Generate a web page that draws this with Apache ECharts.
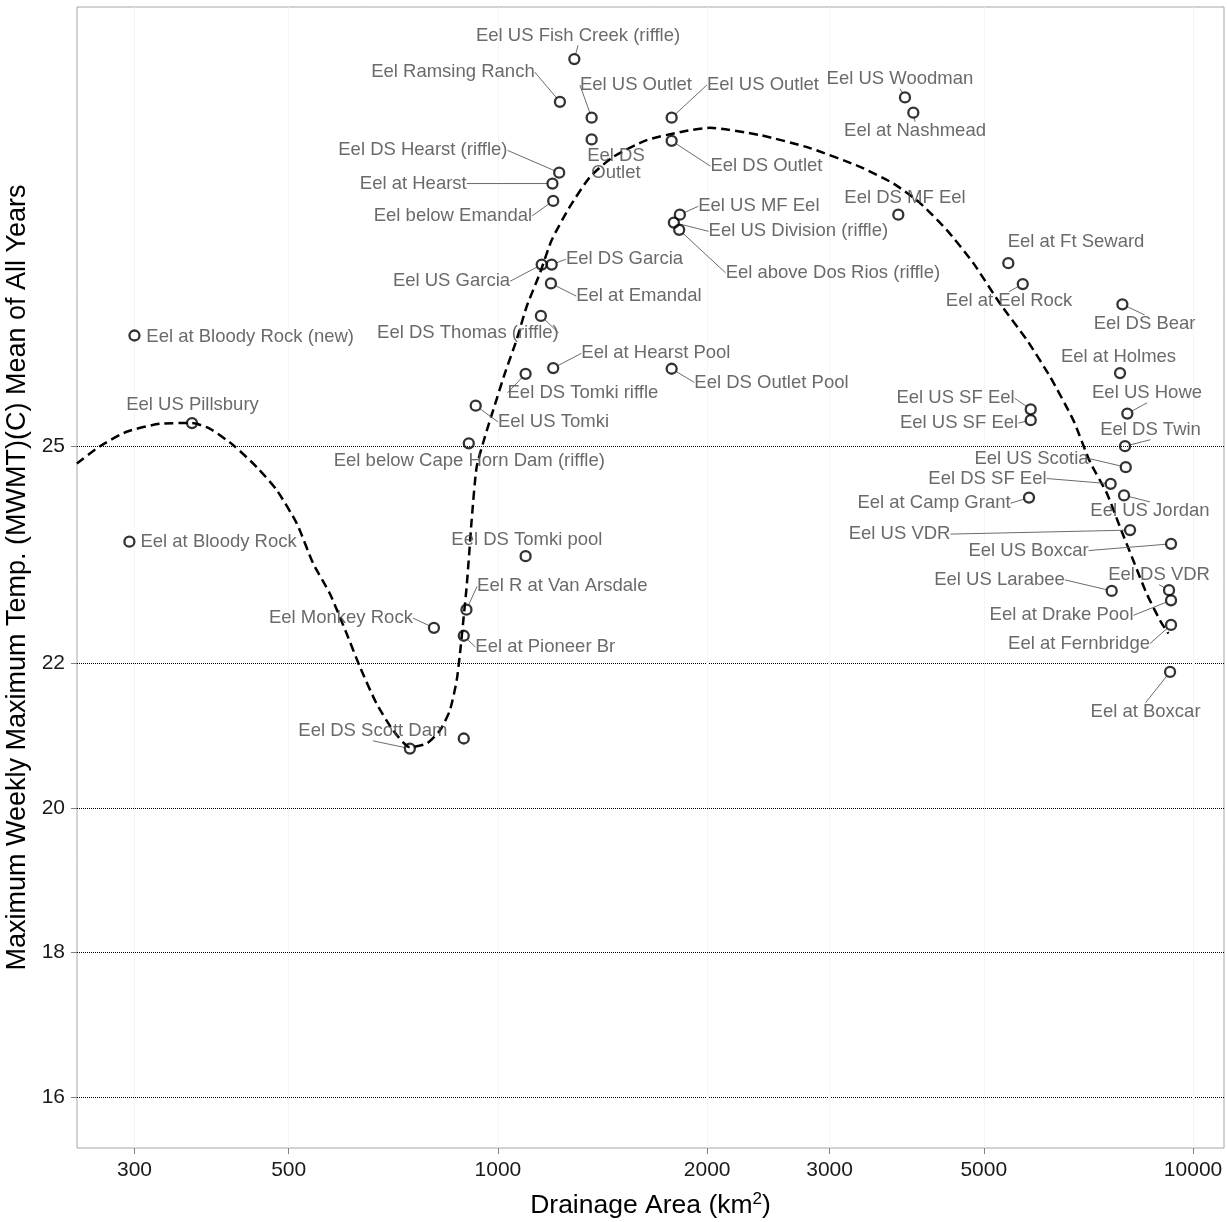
<!DOCTYPE html>
<html>
<head>
<meta charset="utf-8">
<script src="https://cdn.jsdelivr.net/npm/echarts@6/dist/echarts.min.js"></script>
<style>
  html, body { margin: 0; padding: 0; background: #ffffff; }
  #chart { width: 1227px; height: 1222px; }
</style>
</head>
<body>
<div id="chart"></div>
<script>
// Monitoring sites along the Eel River: drainage area (km²) and mean MWMT (°C)
const siteNames = [
  'Eel US Fish Creek (riffle)', 'Eel Ramsing Ranch', 'Eel US Outlet', 'Eel DS\nOutlet',
  'Eel DS Hearst (riffle)', 'Eel at Hearst', 'Eel below Emandal', 'Eel US Outlet',
  'Eel DS Outlet', 'Eel US Woodman', 'Eel at Nashmead', 'Eel DS MF Eel',
  'Eel US MF Eel', 'Eel US Division (riffle)', 'Eel above Dos Rios (riffle)', 'Eel US Garcia',
  'Eel DS Garcia', 'Eel at Emandal', 'Eel DS Thomas (riffle)', 'Eel at Hearst Pool',
  'Eel DS Tomki riffle', 'Eel DS Outlet Pool', 'Eel US Tomki', 'Eel below Cape Horn Dam (riffle)',
  'Eel at Bloody Rock (new)', 'Eel US Pillsbury', 'Eel at Bloody Rock', 'Eel DS Tomki pool',
  'Eel R at Van Arsdale', 'Eel Monkey Rock', 'Eel at Pioneer Br', 'Eel DS Scott Dam',
  '', 'Eel at Ft Seward', 'Eel at Eel Rock', 'Eel DS Bear',
  'Eel at Holmes', 'Eel US Howe', 'Eel DS Twin', 'Eel US SF Eel',
  'Eel US SF Eel', 'Eel US Scotia', 'Eel DS SF Eel', 'Eel at Camp Grant',
  'Eel US Jordan', 'Eel US VDR', 'Eel US Boxcar', 'Eel US Larabee',
  'Eel DS VDR', 'Eel at Drake Pool', 'Eel at Fernbridge', 'Eel at Boxcar'
];
const drainageArea = [
  1288, 1228, 1364, 1364,
  1225, 1198, 1201, 1778,
  1778, 3851, 3959, 3767,
  1827, 1791, 1823, 1156,
  1195, 1192, 1153, 1201,
  1096, 1778, 929, 908,
  300, 363, 295, 1096,
  901, 809, 893, 747,
  893, 5423, 5689, 7913,
  7852, 8044, 7983, 5841,
  5841, 8002, 7612, 5808,
  7956, 8117, 9297, 7638,
  9236, 9297, 9297, 9267
];
const mwmtMean = [
  30.35, 29.76, 29.54, 29.24,
  28.78, 28.63, 28.39, 29.54,
  29.22, 29.82, 29.61, 28.20,
  28.20, 28.09, 27.99, 27.51,
  27.51, 27.25, 26.80, 26.08,
  26.00, 26.07, 25.56, 25.04,
  26.53, 25.32, 23.68, 23.48,
  22.74, 22.49, 22.38, 20.82,
  20.96, 27.53, 27.24, 26.96,
  26.01, 25.45, 25.00, 25.51,
  25.36, 24.71, 24.48, 24.29,
  24.32, 23.84, 23.65, 23.00,
  23.01, 22.87, 22.53, 21.88
];

// Fitted trend (dashed curve) sampled along the drainage-area range
const fitArea = [
  247.9, 267.7, 292.4, 326.6, 362.8, 385.5, 416.6, 449.9, 480.8, 513.7,
  542.2, 573.2, 605.8, 633.1, 669.1, 707.0, 747.0, 789.9, 825.0, 853.0,
  872.2, 881.8, 891.7, 901.4, 909.3, 916.7, 931.9, 957.8, 984.5, 1023.5,
  1063.9, 1099.8, 1149.2, 1195.1, 1269.0, 1356.3, 1465.4, 1636.8, 1848.2, 2018.4,
  2382.3, 2811.7, 3318.6, 3706.4, 4048.9, 4421.3, 4830.0, 5276.6, 5764.6, 6227.3,
  6725.0, 7110.7, 7515.6, 7852.0, 8205.0, 8578.0, 8967.0, 9215.0
];
const fitTemp = [
  24.76, 25.00, 25.20, 25.31, 25.32, 25.24, 25.01, 24.71, 24.39, 23.93,
  23.38, 22.96, 22.41, 21.95, 21.44, 21.07, 20.84, 20.89, 21.07, 21.35,
  21.76, 22.13, 22.59, 23.05, 23.52, 23.98, 24.71, 25.13, 25.50, 26.01,
  26.47, 26.93, 27.39, 27.85, 28.31, 28.72, 29.00, 29.23, 29.35, 29.40,
  29.30, 29.12, 28.86, 28.63, 28.36, 27.99, 27.53, 26.97, 26.47, 25.96,
  25.36, 24.78, 24.35, 23.88, 23.42, 22.96, 22.59, 22.41
];

const xTickValues = [300, 500, 1000, 2000, 3000, 5000, 10000];
const yTickValues = [16, 18, 20, 22, 25];
const xRange = [248, 11080];
const yRange = [15.3, 31.07];

// Label placement: pixel offset of each label from its point, and whether a leader line is drawn
const labelOffsets = [
  [3.7, -23.3], [-107, -29.7], [44.3, -32.7], [24.3, 24.7],
  [-136.3, -22.3], [-139.2, 0], [-100.3, 15], [91.3, -32.7],
  [94.8, 25.3], [-5, -18.3], [1.7, 18.7], [6.7, -16.3],
  [79, -8.3], [124.5, 8.7], [153.7, 43], [-90.2, 16.7],
  [72.8, -5.3], [88, 12.7], [-73, 17], [102.7, -14.7],
  [57.3, 19], [99.8, 13.7], [77.8, 16.3], [0.5, 17.7],
  [115.7, 1], [0.5, -17.7], [89.2, 0], [1.3, -16.7],
  [95.8, -23.3], [-93, -9.7], [81.5, 11.3], [-37, -17.3],
  [0, 0], [67.7, -21.3], [-13.7, 17], [22.2, 20],
  [-1.5, -16.3], [19.7, -20.3], [25.5, -16], [-75.2, -11],
  [-71.7, 3], [-94.2, -8.7], [-123.2, -5.3], [-95, 5.7],
  [26, 16], [-230.5, 4], [-142.5, 6.7], [-112.2, -11],
  [-10, -15], [-109.5, 15], [-92, 18.7], [-24.5, 40.3]
];
const leaderShown = [
  1, 1, 1, 0,
  1, 1, 1, 1,
  1, 1, 1, 0,
  1, 1, 1, 1,
  1, 1, 1, 1,
  1, 1, 1, 0,
  0, 0, 0, 0,
  1, 1, 1, 1,
  0, 0, 1, 1,
  0, 1, 1, 1,
  1, 1, 1, 1,
  1, 1, 1, 1,
  1, 1, 1, 1
];

const log10 = Math.log10;
const FONT = "'Liberation Sans', Arial, Helvetica, sans-serif";

const pointData = siteNames.map((name, i) => ({
  name: name,
  value: [log10(drainageArea[i]), mwmtMean[i]],
  labelLine: { show: !!leaderShown[i] }
}));
const fitData = fitArea.map((a, i) => [log10(a), fitTemp[i]]);

const chart = echarts.init(document.getElementById('chart'), null, { renderer: 'canvas' });

chart.setOption({
  animation: false,
  backgroundColor: '#ffffff',
  textStyle: { fontFamily: FONT },
  grid: {
    left: 77, right: 3, top: 7, bottom: 74,
    outerBoundsMode: 'none',
    containLabel: false,
    show: true, borderColor: '#a6a6a6', borderWidth: 1, backgroundColor: 'transparent'
  },
  xAxis: {
    type: 'value',
    min: log10(xRange[0]),
    max: log10(xRange[1]),
    name: 'Drainage Area (km{sup|2})',
    nameLocation: 'middle',
    nameGap: 43,
    nameTextStyle: {
      fontFamily: FONT, fontSize: 26.5, color: '#000000',
      rich: {
        sup: { fontFamily: FONT, fontSize: 17, color: '#000000', verticalAlign: 'top', padding: [0, 0, 12, 0] }
      }
    },
    axisLine: { show: false },
    axisTick: {
      show: true, length: 6, lineStyle: { color: '#7f7f7f', width: 1 },
      customValues: xTickValues.map(log10)
    },
    axisLabel: {
      show: true, margin: 12, fontSize: 21, color: '#1a1a1a', fontFamily: FONT,
      customValues: xTickValues.map(log10),
      formatter: v => String(Math.round(Math.pow(10, v)))
    },
    splitLine: { show: true, lineStyle: { color: '#ececec', width: 1, type: 'dotted' } }
  },
  yAxis: {
    type: 'value',
    min: yRange[0],
    max: yRange[1],
    name: 'Maximum Weekly Maximum Temp. (MWMT)(C) Mean of All Years',
    nameLocation: 'middle',
    nameGap: 42,
    nameTextStyle: { fontFamily: FONT, fontSize: 27, color: '#000000' },
    axisLine: { show: false },
    axisTick: {
      show: true, length: 6, lineStyle: { color: '#7f7f7f', width: 1 },
      customValues: yTickValues
    },
    axisLabel: {
      show: true, margin: 12, fontSize: 21, color: '#1a1a1a', fontFamily: FONT,
      customValues: yTickValues
    },
    splitLine: { show: true, lineStyle: { color: '#000000', width: 1, type: 'dotted' } }
  },
  series: [
    {
      type: 'line',
      data: fitData,
      showSymbol: false,
      symbol: 'none',
      smooth: 0.2,
      silent: true,
      z: 2,
      lineStyle: { color: '#000000', width: 2.5, type: [9, 5] }
    },
    {
      type: 'scatter',
      data: pointData,
      symbol: 'circle',
      symbolSize: 10,
      z: 3,
      itemStyle: { color: 'rgba(0,0,0,0)', borderColor: '#000000', borderWidth: 2.3 },
      label: {
        show: true,
        position: 'inside',
        formatter: '{b}',
        fontFamily: FONT,
        fontSize: 18.5,
        lineHeight: 17,
        color: '#454545'
      },
      labelLine: { show: true, lineStyle: { color: '#5a5a5a', width: 0.9 } },
      labelLayout: function (p) {
        const o = labelOffsets[p.dataIndex];
        return { dx: o[0], dy: o[1] };
      }
    }
  ]
});
</script>
</body>
</html>
